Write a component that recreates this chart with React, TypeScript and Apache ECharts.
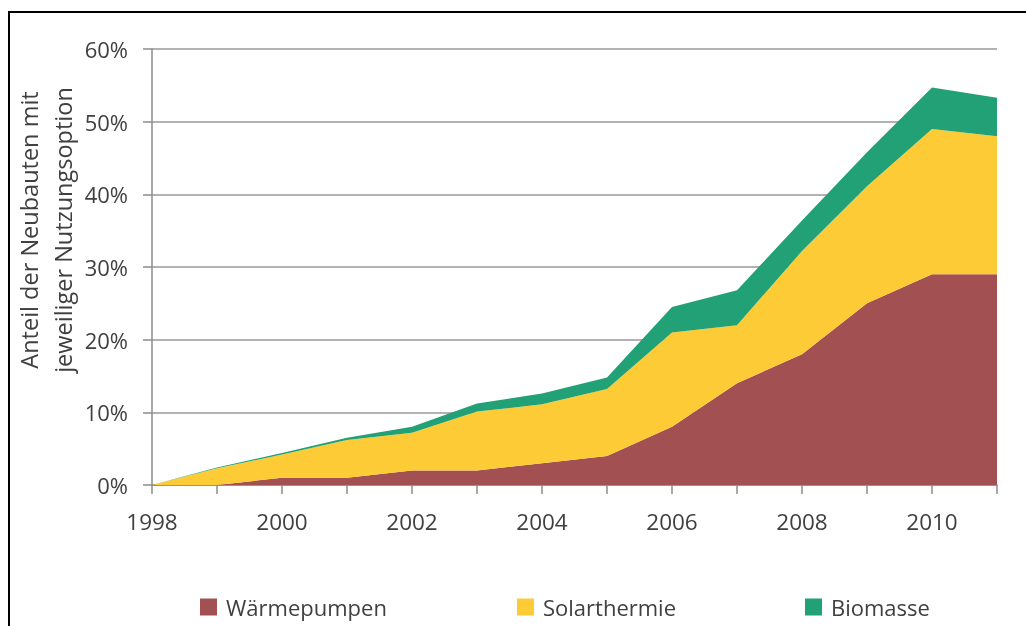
import React, { useEffect, useRef } from "react";
import * as echarts from "echarts";

const years = ["1998","1999","2000","2001","2002","2003","2004","2005","2006","2007","2008","2009","2010","2011"];
const waermepumpen = [0, 0, 1, 1, 2, 2, 3, 4, 8, 14, 18, 25, 29, 29];
const solarthermie = [0, 2.3, 3.2, 5.2, 5.2, 8.1, 8.1, 9.2, 13, 8, 14.2, 16.1, 20, 19];
const biomasse = [0, 0.1, 0.2, 0.3, 0.8, 1.1, 1.5, 1.6, 3.5, 4.8, 4.2, 4.7, 5.7, 5.3];
const seriesNames = ["Wärmepumpen", "Solarthermie", "Biomasse"];
const colors = ["#A35052", "#FDCB36", "#21A175"];
const yTitleLines = ["Anteil der Neubauten mit", "jeweiliger Nutzungsoption"];

const FONT = "'Open Sans', sans-serif";

export default function App() {
  const ref = useRef<HTMLDivElement>(null);
  useEffect(() => {
    const chart = echarts.init(ref.current!, null, { renderer: "svg" });
    const data = [waermepumpen, solarthermie, biomasse];
    const legendLefts = [200, 517, 805];
    chart.setOption({
      animation: false,
      textStyle: { fontFamily: FONT },
      grid: { left: 152, right: 29, top: 49, bottom: 141 },
      graphic: [
        {
          type: "polyline",
          shape: { points: [[9, 626], [9, 12], [1026, 12]] },
          style: { stroke: "#000", lineWidth: 2, fill: "none" },
        },
        {
          type: "text",
          x: 46,
          y: 230,
          rotation: Math.PI / 2,
          style: {
            text: yTitleLines.join("\n"),
            font: `23.5px ${FONT}`,
            fill: "#404040",
            align: "center",
            verticalAlign: "middle",
            lineHeight: 34,
          },
        },
      ],
      legend: seriesNames.map((n, i) => ({
        data: [n],
        left: legendLefts[i],
        top: 596,
        padding: 0,
        itemWidth: 17,
        itemHeight: 17,
        icon: "rect",
        textStyle: { fontSize: 22, color: "#404040", fontFamily: FONT, padding: [0, 0, 0, 4] },
      })),
      xAxis: {
        type: "category",
        data: years,
        boundaryGap: false,
        axisLine: { lineStyle: { color: "#8c8c8c", width: 1.5 } },
        axisTick: { show: true, interval: 0, length: 9, lineStyle: { color: "#8c8c8c", width: 1.5 } },
        axisLabel: { interval: 1, fontSize: 22.5, color: "#404040", margin: 25, fontFamily: FONT },
      },
      yAxis: {
        type: "value",
        min: 0,
        max: 60,
        interval: 10,
        axisLine: { show: true, lineStyle: { color: "#8c8c8c", width: 1.5 } },
        axisTick: { show: true, length: 9, lineStyle: { color: "#8c8c8c", width: 1.5 } },
        splitLine: { lineStyle: { color: "#999999", width: 1.5 } },
        axisLabel: { formatter: "{value}%", fontSize: 22, color: "#404040", margin: 24, fontFamily: FONT },
      },
      series: seriesNames.map((n, i) => ({
        name: n,
        type: "line",
        stack: "total",
        data: data[i],
        symbol: "none",
        lineStyle: { width: 0 },
        areaStyle: { color: colors[i], opacity: 1 },
        itemStyle: { color: colors[i] },
        emphasis: { disabled: true },
      })),
    });
    return () => chart.dispose();
  }, []);
  return <div ref={ref} style={{ position: "fixed", left: 0, top: 0, width: 1026, height: 626 }} />;
}
